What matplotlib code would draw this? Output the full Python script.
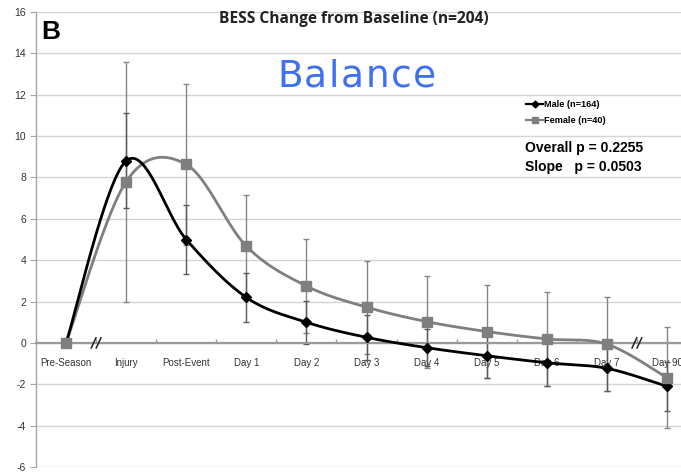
import numpy as np
import matplotlib
matplotlib.use("Agg")
import matplotlib.pyplot as plt
from matplotlib.lines import Line2D
from matplotlib.transforms import ScaledTranslation

plt.rcParams["axes.unicode_minus"] = False

# Time points of the BESS assessment
categories = ["Pre-Season", "Injury", "Post-Event", "Day 1", "Day 2", "Day 3",
              "Day 4", "Day 5", "Day 6", "Day 7", "Day 90"]

# Mean change from baseline and error (±) per group
male_mean = [0.0, 8.8, 5.0, 2.2, 1.0, 0.27, -0.23, -0.62, -0.96, -1.23, -2.1]
male_err = [0.0, 2.3, 1.65, 1.2, 1.05, 1.1, 0.9, 1.1, 1.1, 1.1, 1.2]
female_mean = [0.0, 7.8, 8.63, 4.68, 2.75, 1.73, 1.03, 0.55, 0.19, -0.06, -1.68]
female_err = [0.0, 5.8, 3.9, 2.45, 2.27, 2.25, 2.22, 2.25, 2.27, 2.26, 2.45]

y_ticks = list(range(-6, 17, 2))


def smooth(xs, ys, n=40):
    """Catmull-Rom style cubic Bezier smoothing through every point."""
    xs = np.asarray(xs, float)
    ys = np.asarray(ys, float)
    pts = np.column_stack([xs, ys])
    out = []
    t = np.linspace(0, 1, n)[:, None]
    for i in range(len(pts) - 1):
        p0 = pts[max(i - 1, 0)]
        p1 = pts[i]
        p2 = pts[i + 1]
        p3 = pts[min(i + 2, len(pts) - 1)]
        b1 = p1 + (p2 - p0) / 6.0
        b2 = p2 - (p3 - p1) / 6.0
        seg = ((1 - t) ** 3) * p1 + 3 * ((1 - t) ** 2) * t * b1 \
            + 3 * (1 - t) * t ** 2 * b2 + t ** 3 * p2
        out.append(seg if i == 0 else seg[1:])
    res = np.vstack(out)
    return res[:, 0], res[:, 1]


def spaced_text(fig, word, x_left, y, tracking, **kw):
    """Draw a word letter by letter with extra spacing (pixels) between letters."""
    renderer = fig.canvas.get_renderer()
    W = fig.bbox.width
    H = fig.bbox.height
    cur = x_left
    for ch in word:
        t = fig.text(cur / W, 1 - y / H, ch, ha="left", va="baseline", **kw)
        bb = t.get_window_extent(renderer=renderer)
        cur += bb.width + tracking


W, H = 681, 475
fig = plt.figure(figsize=(W / 100, H / 100), dpi=100)
ax = fig.add_axes([36 / W, 1 - 467 / H, 661 / W, 455 / H])

x = np.arange(len(categories))
ax.set_xlim(-0.5, len(categories) - 0.5)
ax.set_ylim(-6, 16)

# Grid and axes styling
ax.set_yticks(y_ticks)
ax.yaxis.grid(True, color="#d4d4d4", lw=1.0, zorder=0)
ax.set_axisbelow(True)
for s in ("top", "right"):
    ax.spines[s].set_visible(False)
ax.spines["left"].set_color("#a6a6a6")
ax.spines["left"].set_linewidth(1.0)
ax.spines["bottom"].set_position(("data", 0))
ax.spines["bottom"].set_color("#9a9a9a")
ax.spines["bottom"].set_linewidth(1.6)

ax.set_xticks(x)
ax.set_xticklabels(categories)
ax.set_xticks(np.arange(-0.5, len(categories) - 0.4, 1), minor=True)
ax.tick_params(axis="x", which="major", length=0, pad=11, labelsize=7,
               labelcolor="#333333")
ax.tick_params(axis="x", which="minor", direction="in", length=3,
               color="#9a9a9a", width=1)
ax.tick_params(axis="y", direction="out", length=4, color="#a6a6a6",
               labelsize=7.5, labelcolor="#333333", pad=3)
for lbl in ax.get_xticklabels() + ax.get_yticklabels():
    lbl.set_family(["Liberation Sans", "DejaVu Sans"])

# Error bars
ax.errorbar(x, female_mean, yerr=female_err, fmt="none", ecolor="#858585",
            elinewidth=1.0, capsize=2, capthick=1.0, zorder=2)
ax.errorbar(x, male_mean, yerr=male_err, fmt="none", ecolor="#5a5a5a",
            elinewidth=1.0, capsize=2, capthick=1.0, zorder=2)

# Smoothed lines with markers
fx, fy = smooth(x, female_mean)
ax.plot(fx, fy, color="#7f7f7f", lw=2.0, zorder=3)
mx, my = smooth(x, male_mean)
ax.plot(mx, my, color="black", lw=2.0, zorder=4)
ax.plot(x, male_mean, ls="none", marker="D", ms=5, color="black", zorder=5)
ax.plot(x, female_mean, ls="none", marker="s", ms=7.5, color="#7f7f7f", zorder=6)

# Axis break marks
for bx in (0.5, 9.5):
    for dx in (-1.8, 1.8):
        off = ScaledTranslation(dx / 72, 0, fig.dpi_scale_trans)
        ax.plot([bx - 0.045, bx + 0.045], [-0.28, 0.28], color="#222222",
                lw=1.1, transform=ax.transData + off, zorder=7,
                solid_capstyle="butt")

# Legend
handles = [
    Line2D([], [], color="black", lw=1.6, marker="D", ms=3.5),
    Line2D([], [], color="#7f7f7f", lw=1.6, marker="s", ms=5),
]
fig.legend(handles, ["Male (n=164)", "Female (n=40)"],
           loc="upper left", bbox_to_anchor=(526 / W, 1 - 100 / H),
           frameon=False, handlelength=1.9, handletextpad=0.05,
           labelspacing=0.75, borderpad=0, borderaxespad=0,
           prop={"family": "Liberation Sans", "weight": "bold", "size": 6.6})

# Texts
fig.text(525 / W, 1 - 148 / H, "Overall p = 0.2255", ha="left", va="center",
         fontsize=10, fontweight="bold", family="Liberation Sans")
fig.text(525 / W, 1 - 167 / H, "Slope   p = 0.0503", ha="left", va="center",
         fontsize=10, fontweight="bold", family="Liberation Sans")
fig.text(354 / W, 1 - 19 / H, "BESS Change from Baseline (n=204)",
         ha="center", va="center", fontsize=11.2, fontweight="bold",
         family="Open Sans", color="#222222")
fig.text(41 / W, 1 - 32 / H, "B", ha="left", va="center", fontsize=19,
         fontweight="bold", family="Liberation Sans")
spaced_text(fig, "Balance", 277, 87, 1.6, fontsize=27,
            family="DejaVu Sans", color="#3f6ff2")

fig.savefig("out.png", dpi=100)
